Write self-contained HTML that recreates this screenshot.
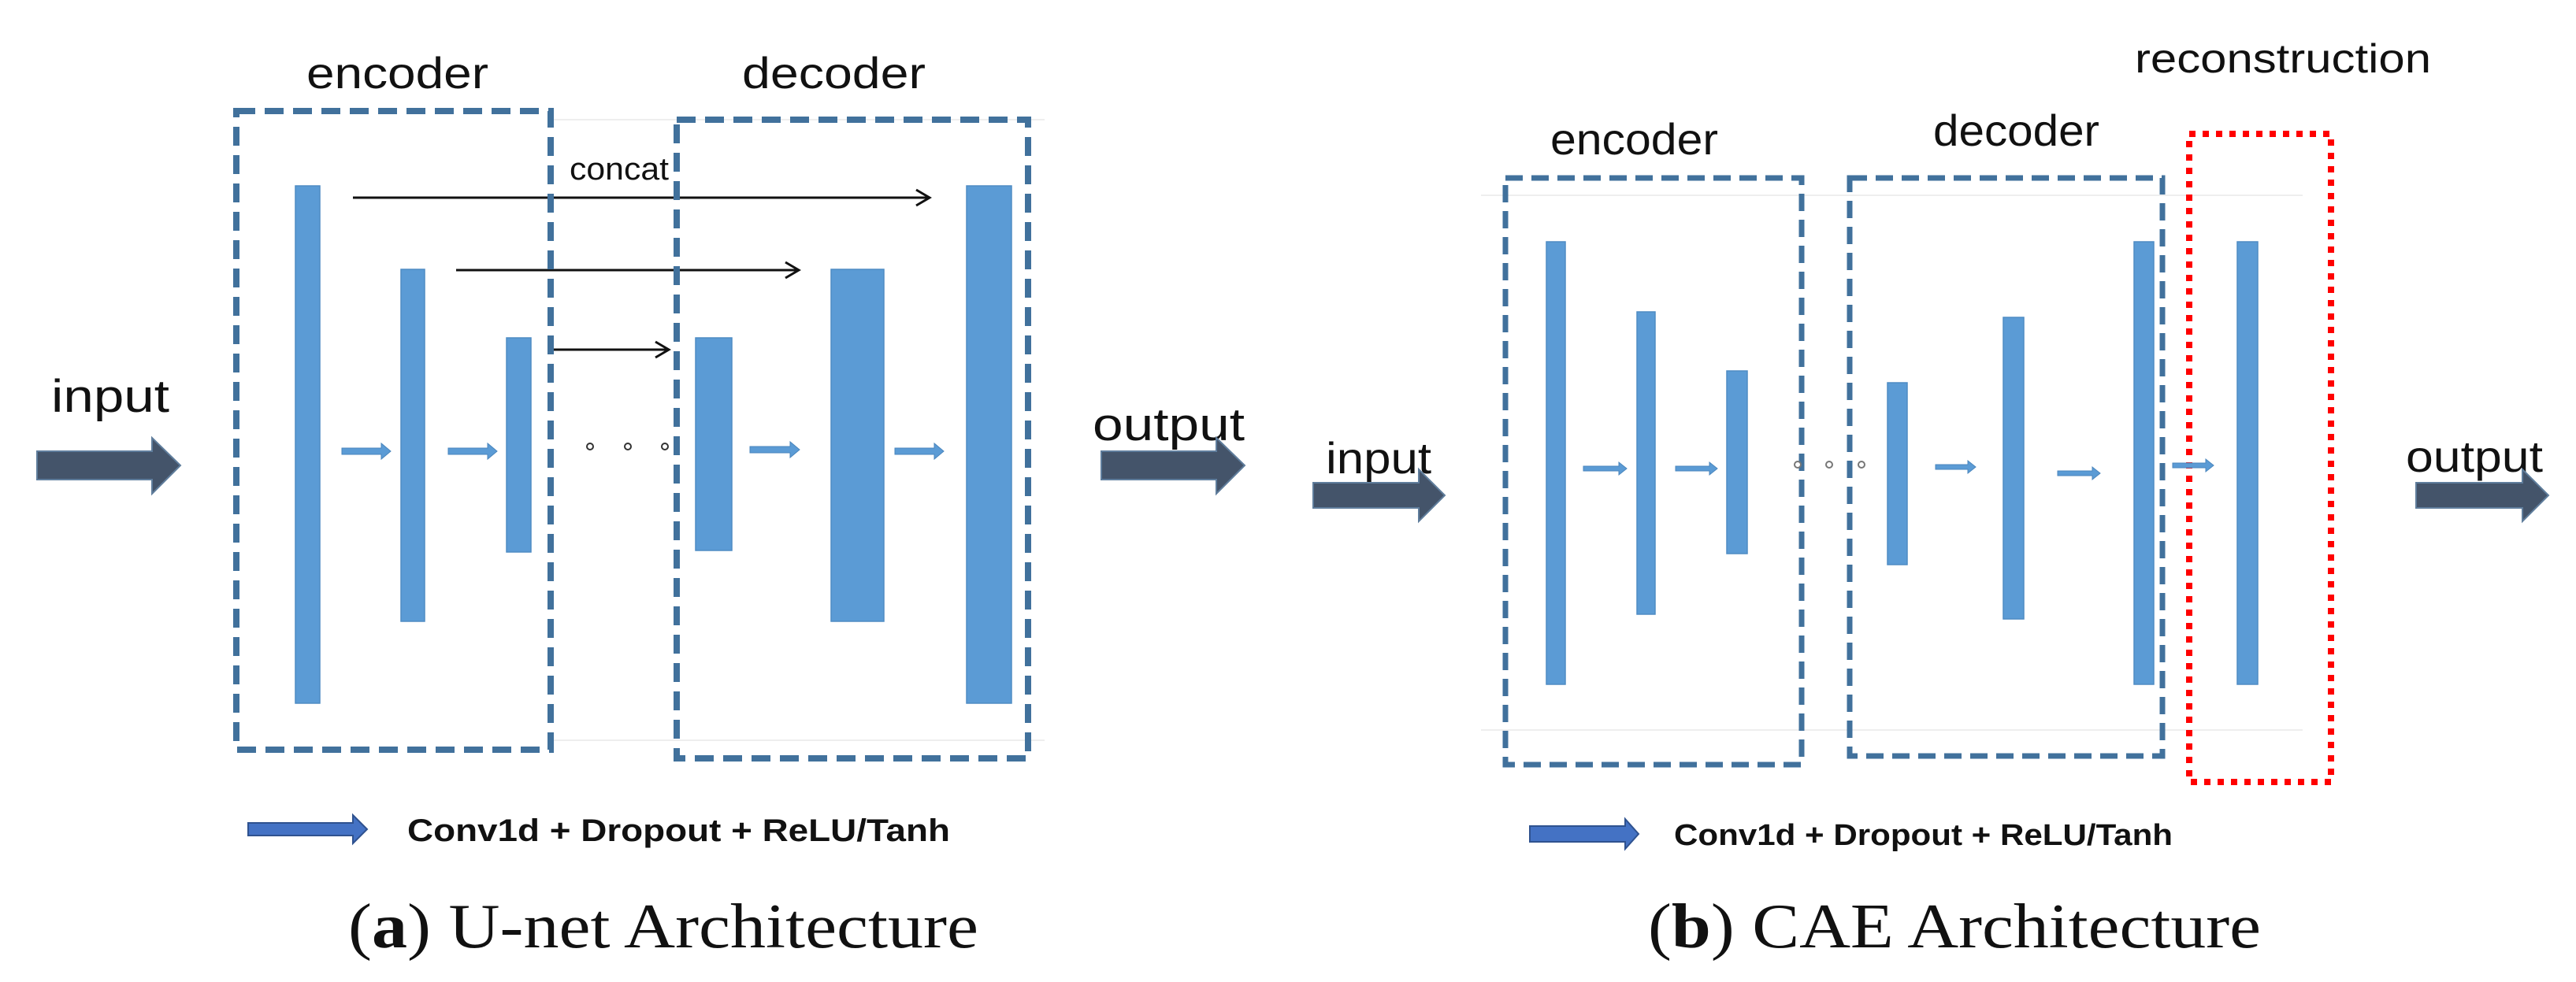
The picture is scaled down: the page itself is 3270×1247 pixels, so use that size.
<!DOCTYPE html>
<html><head><meta charset="utf-8"><style>
html,body{margin:0;padding:0;background:#fff;}
svg{display:block;}
.s{font-family:"Liberation Sans","DejaVu Sans",sans-serif;fill:#111;}
.c{font-family:"Liberation Serif",serif;fill:#111;}
</style></head><body>
<svg width="3270" height="1247" viewBox="0 0 3270 1247" xmlns="http://www.w3.org/2000/svg">
<defs>
<marker id="ah" markerWidth="22" markerHeight="24" refX="19" refY="12" orient="auto" markerUnits="userSpaceOnUse">
<path d="M2,2 L19,12 L2,22" fill="none" stroke="#111" stroke-width="3"/>
</marker>
</defs>
<g stroke="#eeeeee" stroke-width="2">
<line x1="699" y1="152" x2="1326" y2="152"/><line x1="699" y1="940" x2="1326" y2="940"/>
<line x1="1880" y1="248" x2="2923" y2="248"/><line x1="1880" y1="927" x2="2923" y2="927"/>
</g>

<text class="s" x="389" y="112" font-size="56" textLength="231" lengthAdjust="spacingAndGlyphs">encoder</text>
<text class="s" x="942" y="112" font-size="56" textLength="233" lengthAdjust="spacingAndGlyphs">decoder</text>

<g fill="#5b9bd5" stroke="#4f8cc4" stroke-width="1.5">
<rect x="375" y="236" width="31" height="657"/>
<rect x="509" y="342" width="30" height="447"/>
<rect x="643" y="429" width="31" height="272"/>
<rect x="883" y="429" width="46" height="270"/>
<rect x="1055" y="342" width="67" height="447"/>
<rect x="1227" y="236" width="57" height="657"/>
</g>

<g stroke="#111" stroke-width="3" marker-end="url(#ah)">
<line x1="448" y1="251" x2="1180" y2="251"/>
<line x1="579" y1="343" x2="1014" y2="343"/>
<line x1="702" y1="444" x2="849" y2="444"/>
</g>
<text class="s" x="723" y="228" font-size="40" textLength="126" lengthAdjust="spacingAndGlyphs">concat</text>

<g fill="none" stroke="#41719c" stroke-width="8" stroke-dasharray="24 12">
<rect x="300" y="141" width="399" height="811"/>
<rect x="859" y="152" width="446" height="811"/>
</g>

<g fill="#5b9bd5" stroke="#4a86bd" stroke-width="1">
<path d="M434,569 h50 v-6 l12,10 l-12,10 v-6 h-50z"/>
<path d="M569,569 h50 v-6 l12,10 l-12,10 v-6 h-50z"/>
<path d="M952,567 h51 v-6 l12,10 l-12,10 v-6 h-51z"/>
<path d="M1136,569 h50 v-6 l12,10 l-12,10 v-6 h-50z"/>
</g>
<g fill="#fff" stroke="#333" stroke-width="2">
<circle cx="749" cy="567" r="4"/><circle cx="797" cy="567" r="4"/><circle cx="844" cy="567" r="4"/>
</g>

<text class="s" x="65" y="523" font-size="58" textLength="150" lengthAdjust="spacingAndGlyphs">input</text>
<path d="M47,573 h146 v-17 l36,35 l-36,36 v-18 h-146z" fill="#44546a" stroke="#5f7d9c" stroke-width="2"/>
<text class="s" x="1387" y="559" font-size="58" textLength="193" lengthAdjust="spacingAndGlyphs">output</text>
<path d="M1398,573 h146 v-17 l36,35 l-36,36 v-18 h-146z" fill="#44546a" stroke="#5f7d9c" stroke-width="2"/>

<path d="M315,1045 h133 v-10 l18,18 l-18,18 v-10 h-133z" fill="#4472c4" stroke="#2f528f" stroke-width="2"/>
<text class="s" x="517" y="1068" font-size="40" font-weight="bold" textLength="689" lengthAdjust="spacingAndGlyphs">Conv1d + Dropout + ReLU/Tanh</text>

<text class="c" x="442" y="1203" font-size="80" textLength="800" lengthAdjust="spacingAndGlyphs">(<tspan font-weight="bold">a</tspan>) U-net Architecture</text>

<text class="s" x="2710" y="92" font-size="52" textLength="376" lengthAdjust="spacingAndGlyphs">reconstruction</text>
<text class="s" x="1968" y="196" font-size="56" textLength="213" lengthAdjust="spacingAndGlyphs">encoder</text>
<text class="s" x="2454" y="185" font-size="56" textLength="211" lengthAdjust="spacingAndGlyphs">decoder</text>

<g fill="#5b9bd5" stroke="#4f8cc4" stroke-width="1.5">
<rect x="1963" y="307" width="24" height="562"/>
<rect x="2078" y="396" width="23" height="384"/>
<rect x="2192" y="471" width="26" height="232"/>
<rect x="2396" y="486" width="25" height="231"/>
<rect x="2543" y="403" width="26" height="383"/>
<rect x="2709" y="307" width="25" height="562"/>
<rect x="2840" y="307" width="26" height="562"/>
</g>

<g fill="none" stroke="#41719c" stroke-width="7" stroke-dasharray="22 11">
<rect x="1911" y="226" width="376" height="745"/>
<rect x="2348" y="226" width="397" height="734"/>
</g>
<rect x="2779" y="170" width="180" height="823" fill="none" stroke="#ff0000" stroke-width="8" stroke-dasharray="8 9"/>

<g fill="#5b9bd5" stroke="#4a86bd" stroke-width="1">
<path d="M2010,592 h45 v-5 l10,8 l-10,8 v-5 h-45z"/>
<path d="M2127,592 h43 v-5 l10,8 l-10,8 v-5 h-43z"/>
<path d="M2457,590 h41 v-5 l10,8 l-10,8 v-5 h-41z"/>
<path d="M2612,598 h44 v-5 l10,8 l-10,8 v-5 h-44z"/>
<path d="M2758,588 h42 v-5 l10,8 l-10,8 v-5 h-42z"/>
</g>
<g fill="#fff" stroke="#777" stroke-width="2">
<circle cx="2282" cy="590" r="4"/><circle cx="2322" cy="590" r="4"/><circle cx="2363" cy="590" r="4"/>
</g>

<text class="s" x="1683" y="601" font-size="56" textLength="134" lengthAdjust="spacingAndGlyphs">input</text>
<path d="M1667,613 h134 v-17 l33,33 l-33,33 v-17 h-134z" fill="#44546a" stroke="#5f7d9c" stroke-width="2"/>
<text class="s" x="3054" y="599" font-size="56" textLength="174" lengthAdjust="spacingAndGlyphs">output</text>
<path d="M3067,613 h135 v-17 l33,33 l-33,33 v-17 h-135z" fill="#44546a" stroke="#5f7d9c" stroke-width="2"/>

<path d="M1942,1049 h121 v-9 l17,19 l-17,19 v-9 h-121z" fill="#4472c4" stroke="#2f528f" stroke-width="2"/>
<text class="s" x="2125" y="1073" font-size="38" font-weight="bold" textLength="633" lengthAdjust="spacingAndGlyphs">Conv1d + Dropout + ReLU/Tanh</text>

<text class="c" x="2092" y="1203" font-size="80" textLength="778" lengthAdjust="spacingAndGlyphs">(<tspan font-weight="bold">b</tspan>) CAE Architecture</text>
</svg>
</body></html>
